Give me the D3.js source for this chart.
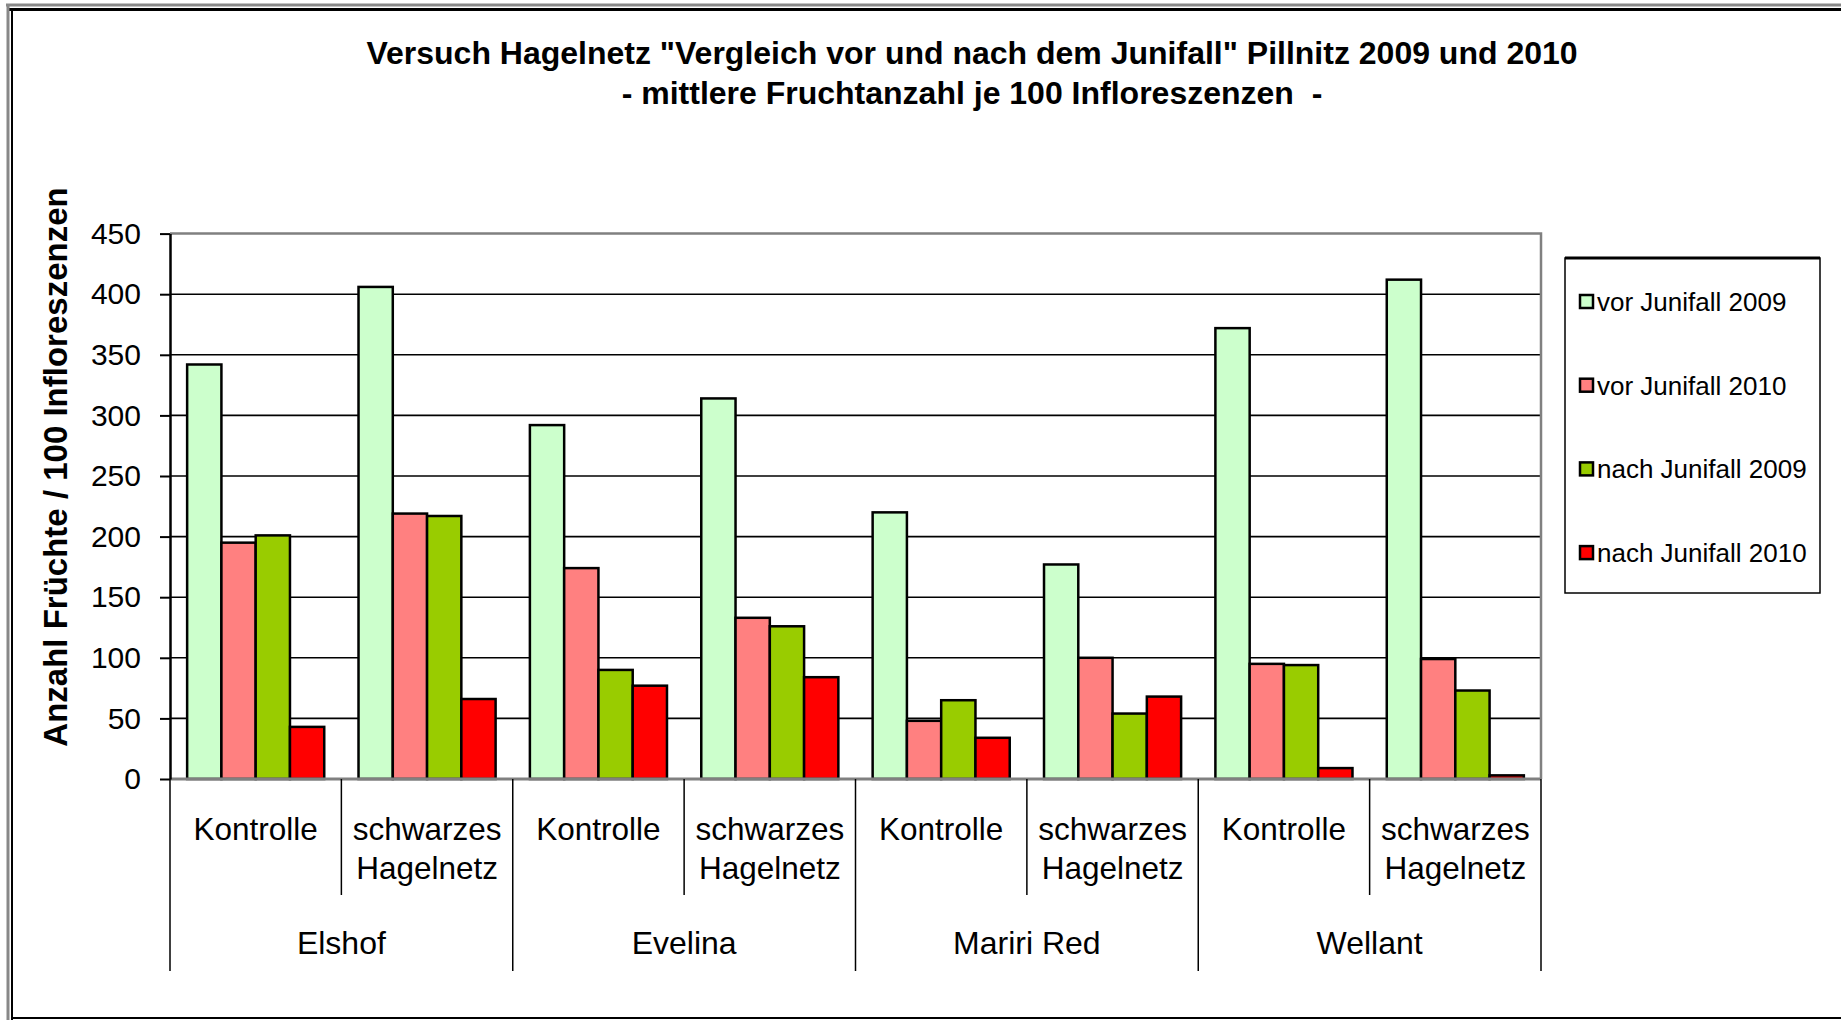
<!DOCTYPE html>
<meta charset="utf-8">
<style>
body { margin: 0; background: #fff; }
svg { display: block; font-family: "Liberation Sans", Arial, sans-serif; }
.grid line { stroke: #000; stroke-width: 1.6; }
.bar { stroke: #000; stroke-width: 2.5; }
</style>
<svg width="1841" height="1020"></svg>
<script src="https://d3js.org/d3.v7.min.js"></script>
<script>
var cultivars = ["Elshof", "Evelina", "Mariri Red", "Wellant"];
var treatments = ["Kontrolle", "schwarzes|Hagelnetz"];
var seriesNames = ["vor Junifall 2009", "vor Junifall 2010", "nach Junifall 2009", "nach Junifall 2010"];
var colors = ["#ccffcc", "#ff8080", "#99cc00", "#ff0000"];

// one value per cultivar x treatment (Kontrolle, schwarzes Hagelnetz)
var vor2009 = [342, 406, 292, 314, 220, 177, 372, 412];
var vor2010 = [195, 219, 174, 133, 48, 100, 95, 99];
var nach2009 = [201, 217, 90, 126, 65, 54, 94, 73];
var nach2010 = [43, 66, 77, 84, 34, 68, 9, 3];
var yTicks = [0, 50, 100, 150, 200, 250, 300, 350, 400, 450];

var svg = d3.select("svg");

var plotLeft = 170, plotRight = 1541, plotTop = 233.6, plotBottom = 779;

var subKeys = [];
cultivars.forEach(function(c) { treatments.forEach(function(t) { subKeys.push(c + "/" + t); }); });
var allSeries = [vor2009, vor2010, nach2009, nach2010];

var y = d3.scaleLinear().domain([0, 450]).range([plotBottom, plotTop]);
var x0 = d3.scaleBand().domain(subKeys).range([plotLeft, plotRight]);
var x1 = d3.scaleBand().domain(d3.range(4)).range([0, x0.bandwidth()]).paddingOuter(0.5);
var xg = d3.scaleBand().domain(cultivars).range([plotLeft, plotRight]);

// frame
svg.append("line").attr("x1", 6).attr("x2", 1841).attr("y1", 5).attr("y2", 5).attr("stroke", "#888").attr("stroke-width", 3);
svg.append("line").attr("x1", 9).attr("x2", 1841).attr("y1", 9.5).attr("y2", 9.5).attr("stroke", "#000").attr("stroke-width", 3);
svg.append("line").attr("x1", 8).attr("x2", 8).attr("y1", 4).attr("y2", 1020).attr("stroke", "#888").attr("stroke-width", 3);
svg.append("line").attr("x1", 12).attr("x2", 12).attr("y1", 9).attr("y2", 1020).attr("stroke", "#000").attr("stroke-width", 2);
svg.append("line").attr("x1", 12).attr("x2", 1841).attr("y1", 1018).attr("y2", 1018).attr("stroke", "#000").attr("stroke-width", 2);

// title
var title = svg.append("text").attr("text-anchor", "middle").attr("font-weight", "bold").attr("font-size", 32);
title.append("tspan").attr("x", 972).attr("y", 64).text("Versuch Hagelnetz \"Vergleich vor und nach dem Junifall\" Pillnitz 2009 und 2010");
title.append("tspan").attr("x", 972).attr("y", 104).attr("xml:space", "preserve").text("- mittlere Fruchtanzahl je 100 Infloreszenzen  -");

// gridlines
svg.append("g").attr("class", "grid")
  .selectAll("line").data(yTicks.slice(1, -1)).enter().append("line")
    .attr("x1", plotLeft).attr("x2", plotRight)
    .attr("y1", function(d) { return y(d); }).attr("y2", function(d) { return y(d); });

// plot border top/right (gray)
svg.append("path").attr("d", "M" + plotLeft + "," + plotTop + "H" + plotRight + "V" + plotBottom)
  .attr("fill", "none").attr("stroke", "#808080").attr("stroke-width", 2.5);

// bars
var groups = svg.append("g").selectAll("g").data(subKeys).enter().append("g")
  .attr("transform", function(d) { return "translate(" + x0(d) + ",0)"; });
groups.selectAll("rect").data(function(d, i) { return allSeries.map(function(s, k) { return { k: k, v: s[i] }; }); })
  .enter().append("rect")
    .attr("class", "bar")
    .attr("x", function(d) { return x1(d.k); })
    .attr("width", x1.bandwidth())
    .attr("y", function(d) { return y(d.v); })
    .attr("height", function(d) { return plotBottom - y(d.v); })
    .attr("fill", function(d) { return colors[d.k]; });

// category axis line
svg.append("line").attr("x1", plotLeft).attr("x2", plotRight).attr("y1", plotBottom).attr("y2", plotBottom)
  .attr("stroke", "#808080").attr("stroke-width", 3);

// y axis
var yAxis = svg.append("g").attr("transform", "translate(" + plotLeft + ",0)")
  .call(d3.axisLeft(y).tickValues(yTicks).tickSize(10).tickSizeOuter(0).tickPadding(19));
yAxis.select(".domain").attr("stroke", "#000").attr("stroke-width", 2.5);
yAxis.selectAll(".tick line").attr("stroke", "#000").attr("stroke-width", 2);
yAxis.selectAll(".tick text").attr("font-size", 30).attr("fill", "#000")
  .attr("font-family", "Liberation Sans, Arial, sans-serif");

// y title
svg.append("text").attr("transform", "translate(67,467) rotate(-90)")
  .attr("text-anchor", "middle").attr("font-weight", "bold").attr("font-size", 33)
  .text("Anzahl Früchte / 100 Infloreszenzen");

// multi-level category axis
var catAxis = svg.append("g");
catAxis.selectAll("line.gsep").data(cultivars.concat(["end"])).enter().append("line")
  .attr("class", "gsep")
  .attr("x1", function(d) { return d === "end" ? plotRight : xg(d); })
  .attr("x2", function(d) { return d === "end" ? plotRight : xg(d); })
  .attr("y1", plotBottom).attr("y2", 971)
  .attr("stroke", "#000").attr("stroke-width", 1.5);
// treatment separators inside each cultivar
subKeys.forEach(function(k, i) {
  if (i % 2 === 1) {
    var xx = x0(k);
    catAxis.append("line").attr("x1", xx).attr("x2", xx).attr("y1", plotBottom).attr("y2", 895)
      .attr("stroke", "#000").attr("stroke-width", 1.5);
  }
});
subKeys.forEach(function(k) {
  var lines = k.split("/")[1].split("|");
  var t = catAxis.append("text").attr("text-anchor", "middle").attr("font-size", 31.5);
  lines.forEach(function(l, j) {
    t.append("tspan").attr("x", x0(k) + x0.bandwidth() / 2).attr("y", 840 + j * 39).text(l);
  });
});
catAxis.selectAll("text.grp").data(cultivars).enter().append("text")
  .attr("class", "grp").attr("text-anchor", "middle").attr("font-size", 32)
  .attr("x", function(d) { return xg(d) + xg.bandwidth() / 2; })
  .attr("y", 954).text(function(d) { return d; });

// legend
var lg = svg.append("g");
lg.append("rect").attr("x", 1565).attr("y", 258).attr("width", 255).attr("height", 335)
  .attr("fill", "#fff").attr("stroke", "#000").attr("stroke-width", 1.5);
lg.append("line").attr("x1", 1565).attr("x2", 1820).attr("y1", 258).attr("y2", 258).attr("stroke", "#000").attr("stroke-width", 3);
var items = lg.selectAll("g.item").data(seriesNames).enter().append("g").attr("class", "item")
  .attr("transform", function(d, i) { return "translate(1580," + (302 + i * 83.7) + ")"; });
items.append("rect").attr("x", 0).attr("y", -7).attr("width", 13).attr("height", 13)
  .attr("fill", function(d, i) { return colors[i]; }).attr("stroke", "#000").attr("stroke-width", 2.5);
items.append("text").attr("x", 17).attr("y", 9).attr("font-size", 26).text(function(d) { return d; });
</script>
